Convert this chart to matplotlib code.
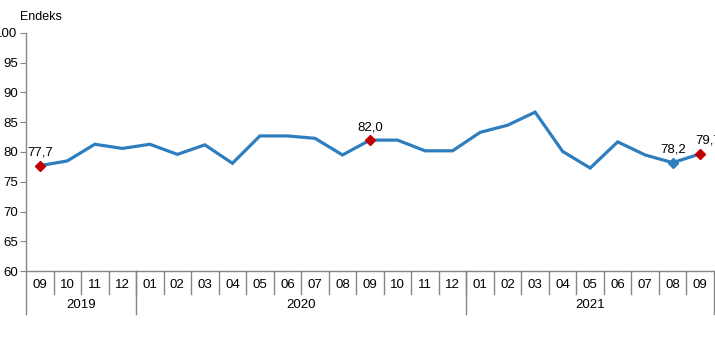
import matplotlib

matplotlib.use("Agg")
import matplotlib.pyplot as plt
import matplotlib.transforms as mtransforms

plt.rcParams["font.family"] = ["Liberation Sans", "DejaVu Sans"]

months = ["09", "10", "11", "12",
          "01", "02", "03", "04", "05", "06", "07", "08", "09", "10", "11", "12",
          "01", "02", "03", "04", "05", "06", "07", "08", "09"]
years = ["2019", "2020", "2021"]
year_counts = [4, 12, 9]
values = [77.7, 78.5, 81.3, 80.6,
          81.3, 79.6, 81.2, 78.1, 82.7, 82.7, 82.3, 79.5, 82.0, 82.0, 80.2, 80.2,
          83.3, 84.5, 86.7, 80.1, 77.3, 81.7, 79.5, 78.2, 79.7]
# highlighted points: (index, marker colour)
highlights = [(0, "#C00000"), (12, "#C00000"), (23, "#2E7EBF"), (24, "#C00000")]

LINE = "#2E7EBF"
AXIS = "#868686"

fig = plt.figure(figsize=(7.15, 3.41), dpi=100)
ax = fig.add_axes([26 / 715, 1 - 271 / 341, 688 / 715, 238 / 341])

x = list(range(len(values)))
ax.plot(x, values, color=LINE, lw=2.3, solid_joinstyle="miter", zorder=3)
for i, c in highlights:
    ax.plot(x[i], values[i], marker="D", ms=5.5, color=c, mec=c, zorder=4)
    dx = 6 if i == len(values) - 1 else 0
    ax.annotate(f"{values[i]:.1f}".replace(".", ","), (x[i], values[i]),
                textcoords="offset points", xytext=(dx, 5), ha="center",
                va="bottom", fontsize=9.5, annotation_clip=False)

ax.set_xlim(-0.5, len(values) - 0.5)
ax.set_ylim(60, 100)
ax.set_yticks(range(60, 101, 5))
ax.tick_params(axis="y", length=4, color=AXIS, labelsize=9.5, pad=2)
ax.set_xticks([])
for s in ("top", "right"):
    ax.spines[s].set_visible(False)
for s in ("left", "bottom"):
    ax.spines[s].set_color(AXIS)
    ax.spines[s].set_linewidth(1.0)

# category axis: month cells, then year groups
tr = mtransforms.blended_transform_factory(ax.transData, ax.transAxes)
h_month = (294 - 271) / 238
h_year = (314 - 271) / 238
for i, m in enumerate(months):
    ax.text(i, -0.058, m, transform=tr, ha="center", va="center", fontsize=9.5)
    if i > 0:
        ax.plot([i - 0.5, i - 0.5], [0, -h_month], transform=tr, color=AXIS,
                lw=1.0, clip_on=False)
start = 0
for yr, n in zip(years, year_counts):
    ax.plot([start - 0.5, start - 0.5], [0, -h_year], transform=tr, color=AXIS,
            lw=1.0, clip_on=False)
    ax.text(start + (n - 1) / 2, -0.143, yr, transform=tr, ha="center",
            va="center", fontsize=9.5)
    start += n
ax.plot([start - 0.5, start - 0.5], [0, -h_year], transform=tr, color=AXIS,
        lw=1.0, clip_on=False)

fig.text(20 / 715, 1 - 17 / 341, "Endeks", ha="left", va="center", fontsize=9)

fig.savefig("out.png", dpi=100)
